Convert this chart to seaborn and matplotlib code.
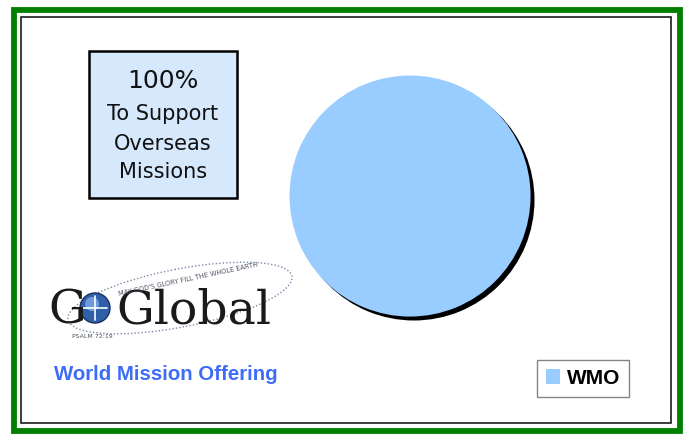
import matplotlib
matplotlib.use("Agg")
import matplotlib.pyplot as plt
import seaborn as sns
from matplotlib.patches import Rectangle, Circle, Ellipse

sns.set_theme(style="white")
plt.rcParams['font.family'] = ['DejaVu Sans']

# ---- data ----
labels = ["WMO"]
values = [100]
slice_colors = ["#99ccff"]
box_lines = ["100%", "To Support", "Overseas", "Missions"]
subtitle = "World Mission Offering"

W, H = 686, 434
fig = plt.figure(figsize=(W / 100, H / 100), dpi=100)
fig.patch.set_facecolor("white")

# canvas axes in pixel coordinates
bg = fig.add_axes([0, 0, 1, 1])
bg.set_xlim(0, W)
bg.set_ylim(H, 0)
bg.axis("off")

# frames
bg.add_patch(Rectangle((13.5, 10), 666, 420.5, fill=False, edgecolor="#008000", linewidth=4.2))
bg.add_patch(Rectangle((21, 17), 650, 406, fill=False, edgecolor="#1a1a1a", linewidth=1.2))

# text box
bg.add_patch(Rectangle((89, 51), 148, 147, facecolor="#d6e9fc", edgecolor="black", linewidth=1.8))
ys = [81, 114.5, 144.5, 172.5]
sizes = [18, 15, 15, 15]
for t, y, s in zip(box_lines, ys, sizes):
    bg.text(163, y, t, ha="center", va="center", fontsize=s, color="#111111")

# Go Global logo
bg.add_patch(Ellipse((180, 298), 228, 58, angle=-11, fill=False, edgecolor="#7a8aa8",
                     linestyle=(0, (1, 1.5)), linewidth=1.0))
bg.text(67, 323, "G", fontsize=34, family="DejaVu Serif", color="#1a1a1a",
        ha="center", va="baseline")
bg.add_patch(Circle((95, 308), 15, facecolor="#2f5fa8", edgecolor="#1a2f60", linewidth=1))
bg.add_patch(Circle((92, 304), 7, facecolor="#6f9ad8", edgecolor="none"))
bg.plot([95, 95], [296, 320], color="white", lw=1.2)
bg.plot([83, 107], [308, 308], color="white", lw=1.2)
bg.text(116, 323, "Global", fontsize=34, family="DejaVu Serif", color="#1a1a1a",
        ha="left", va="baseline")
bg.text(188, 279, "MAY GOD'S GLORY FILL THE WHOLE EARTH", fontsize=4.8, color="#556",
        ha="center", va="center", rotation=12)
bg.text(92, 337, "PSALM 72:19", fontsize=4.5, color="#556", ha="center", va="center")

bg.text(166, 374, subtitle, fontsize=14.7, fontweight="bold", family="Liberation Sans",
        color="#3d6cf8", ha="center", va="center")

# pie
r_px = 122.5
cx, cy = 412, 198
ax = fig.add_axes([(cx - r_px) / W, (H - cy - r_px) / H, 2 * r_px / W, 2 * r_px / H])
off = 4 / r_px
ax.pie(values, colors=["black"], center=(off, -off), radius=1,
       wedgeprops=dict(linewidth=0))
wedges, _ = ax.pie(values, colors=slice_colors, radius=1, labels=None,
                   wedgeprops=dict(linewidth=0))
ax.set_xlim(-1, 1 + off)
ax.set_ylim(-1 - off, 1)
ax.set_aspect("auto")
ax.axis("off")

# legend
leg = fig.legend([wedges[0]], labels, loc="upper left",
                 bbox_to_anchor=(537 / W, 1 - 360 / H),
                 frameon=True, fancybox=False, edgecolor="#666666",
                 prop={"family": "Liberation Sans", "weight": "bold", "size": 15},
                 handlelength=0.7, handleheight=0.7, handletextpad=0.3,
                 borderpad=0.42, borderaxespad=0)
leg.get_frame().set_linewidth(1.0)
for t in leg.get_texts():
    t.set_color("black")

fig.savefig("out.png", dpi=100, facecolor="white")
